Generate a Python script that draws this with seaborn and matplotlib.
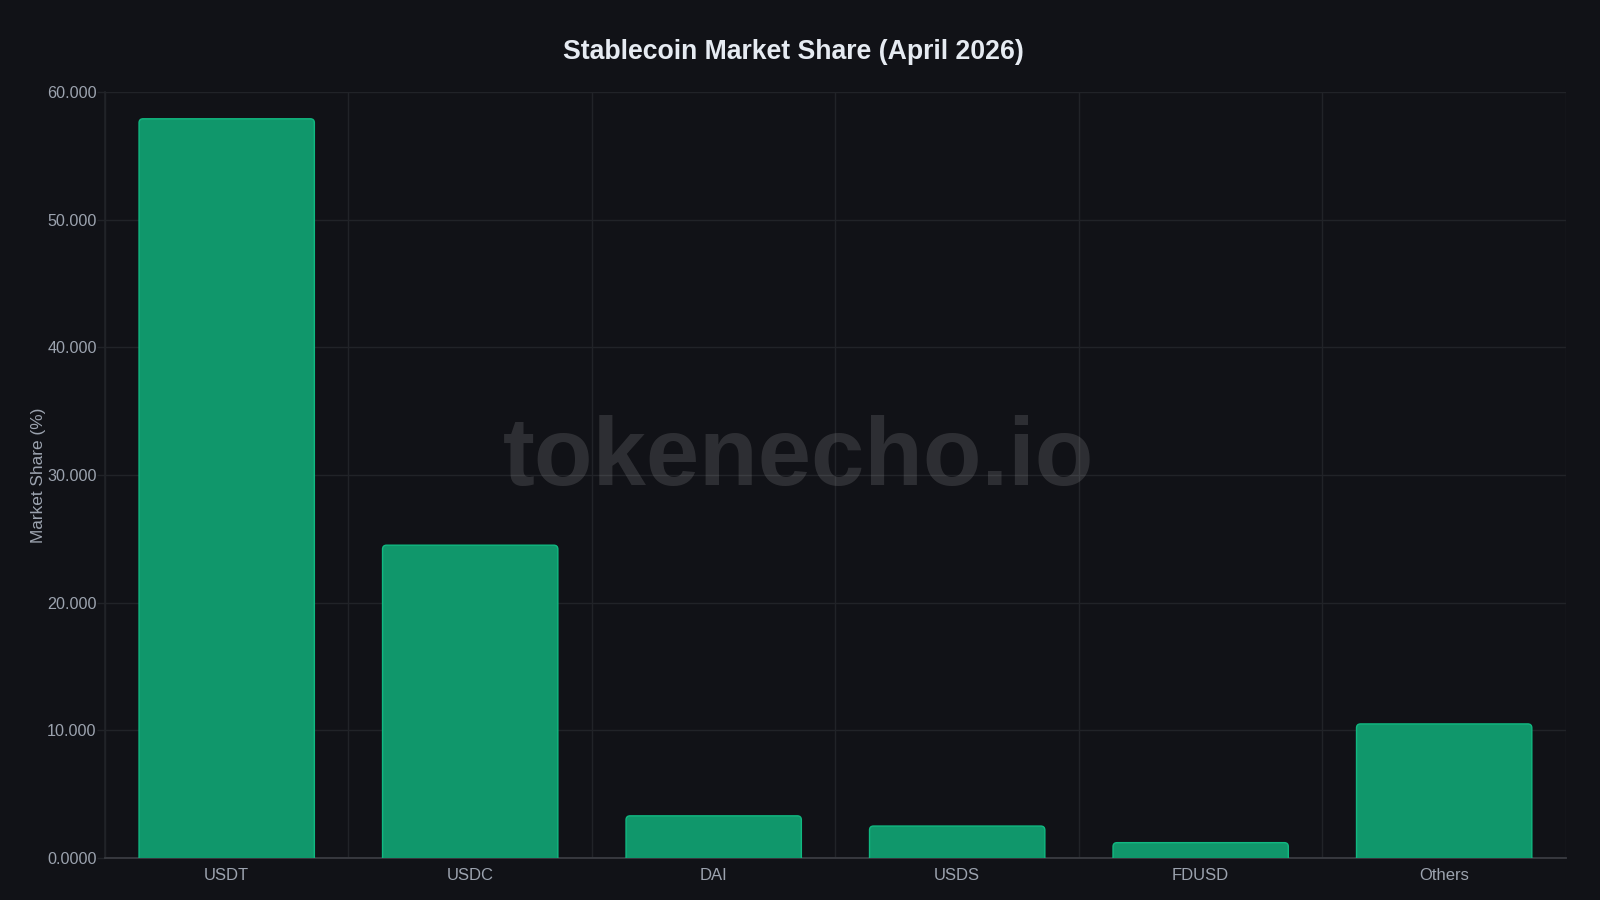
import matplotlib
matplotlib.use('Agg')
from matplotlib import pyplot as plt
from matplotlib.patches import FancyBboxPatch
import seaborn as sns
import numpy as np
import pandas as pd

# values
coins = ['USDT', 'USDC', 'DAI', 'USDS', 'FDUSD', 'Others']
shares = [57.9, 24.5, 3.3, 2.5, 1.2, 10.5]
y_ticks = [0, 10, 20, 30, 40, 50, 60]
y_tick_labels = ['0.0000', '10.000', '20.000', '30.000', '40.000', '50.000', '60.000']

bg = '#111217'
grid_col = '#212328'
text_col = '#9ca3af'
bar_fill = '#10976b'
bar_edge = '#10b981'

sns.set_theme(style='dark')
plt.rcParams['font.family'] = ['Liberation Sans', 'DejaVu Sans']

data = pd.DataFrame({'coin': coins, 'share': shares})

fig = plt.figure(figsize=(16, 9), dpi=100, facecolor=bg)
ax = fig.add_axes([0.0656, 0.0467, 0.9131, 0.8511])
ax.set_facecolor(bg)

sns.barplot(data=data, x='coin', y='share', color=bar_fill, width=0.72,
            edgecolor=bar_edge, linewidth=1.0, saturation=1, ax=ax, zorder=3)

ax.set_xlim(-0.5, len(coins) - 0.5)
ax.set_ylim(0, 60)

# swap plain rectangles for ones with slightly rounded tops
bbox = ax.get_window_extent()
px_x = bbox.width / len(coins)
px_y = bbox.height / 60
radius = 4 / px_x
for p in list(ax.patches):
    x, w, h = p.get_x(), p.get_width(), p.get_height()
    rp = FancyBboxPatch((x, -1), w, h + 1,
                        boxstyle='round,pad=0,rounding_size=%f' % radius,
                        mutation_aspect=px_x / px_y,
                        facecolor=bar_fill, edgecolor=bar_edge, linewidth=1.0, zorder=3)
    rp.set_clip_path(ax.patch)
    p.remove()
    ax.add_patch(rp)

ax.set_yticks(y_ticks)
ax.set_yticklabels(y_tick_labels)
ax.set_xticks(range(len(coins)))
ax.set_xticklabels(coins)
ax.set_xticks(np.arange(-0.5, len(coins)), minor=True)

ax.grid(False)
ax.grid(True, axis='y', which='major', color=grid_col, linewidth=1, zorder=0)
ax.grid(True, axis='x', which='minor', color=grid_col, linewidth=1, zorder=0)
ax.set_axisbelow(True)

ax.tick_params(axis='x', which='major', length=0, pad=7, labelsize=12, labelcolor=text_col)
ax.tick_params(axis='x', which='minor', length=6, width=1, color=grid_col)
ax.tick_params(axis='y', which='major', length=6, width=1, color=grid_col, pad=0,
               labelsize=11.6, labelcolor=text_col, left=True)

for side in ['top', 'right']:
    ax.spines[side].set_visible(False)
ax.spines['left'].set_color(grid_col)
ax.spines['bottom'].set_color('#3a3c42')
ax.spines['bottom'].set_linewidth(1.3)

ax.set_xlabel('')
ax.set_ylabel('Market Share (%)', color=text_col, fontsize=12.4, labelpad=1)

# watermark
ax.text(0.475, 0.52, 'tokenecho.io', transform=ax.transAxes, ha='center', va='center',
        fontsize=69, fontweight='bold', color='#ffffff', alpha=0.12, zorder=1)

fig.text(0.496, 0.942, 'Stablecoin Market Share (April 2026)', ha='center', va='center',
         fontsize=19.2, fontweight='bold', color='#e6ebf2')

fig.savefig('out.png', dpi=100, facecolor=bg)
